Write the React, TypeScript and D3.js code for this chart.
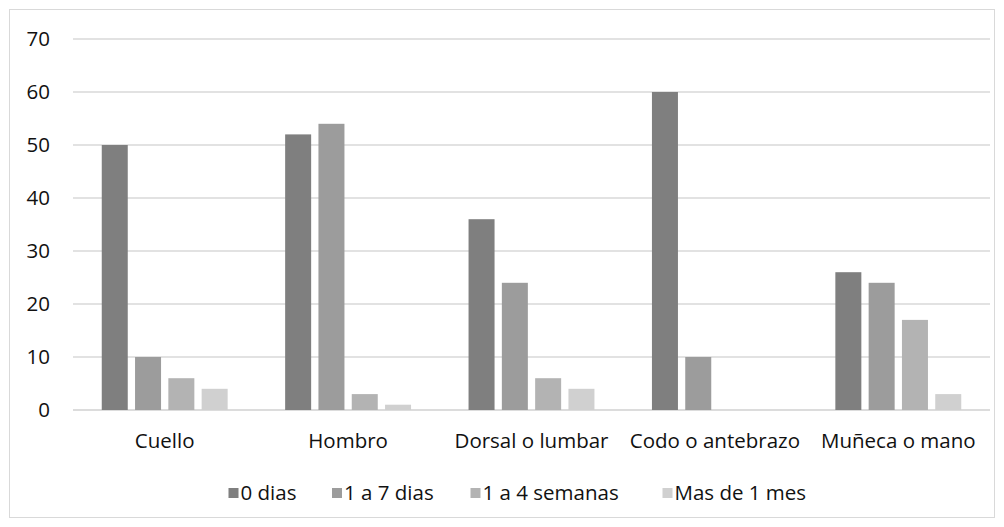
import React from "react";
import * as d3 from "d3";

const categories = ["Cuello", "Hombro", "Dorsal o lumbar", "Codo o antebrazo", "Muñeca o mano"];
const seriesNames = ["0 dias", "1 a 7 dias", "1 a 4 semanas", "Mas de 1 mes"];
const s0 = [50, 52, 36, 60, 26];
const s1 = [10, 54, 24, 10, 24];
const s2 = [6, 3, 6, 0, 17];
const s3 = [4, 1, 4, 0, 3];
const seriesValues = [s0, s1, s2, s3];
const yTicks = [0, 10, 20, 30, 40, 50, 60, 70];
const colors = ["#7f7f7f", "#9c9c9c", "#b3b3b3", "#d0d0d0"];

const W = 1004;
const H = 527;
const font = "'Open Sans', sans-serif";
const fs = 20.5;

export default function App() {
  const x0 = d3.scaleBand<string>().domain(categories).range([73, 990]).paddingInner(0).paddingOuter(0);
  const y = d3.scaleLinear().domain([0, 70]).range([410, 39]);
  const step = x0.bandwidth();
  const barW = 26;
  const gap = 7.3;
  const groupW = 4 * barW + 3 * gap;
  const off = (step - groupW) / 2;
  const x1 = d3
    .scaleOrdinal<number, number>()
    .domain([0, 1, 2, 3])
    .range([0, 1, 2, 3].map((i) => off + i * (barW + gap)));

  const legendX = [228.5, 332, 470.5, 662.5];

  return (
    <svg width={W} height={H} style={{ position: "absolute", left: 0, top: 0 }} fontFamily={font}>
      <rect x={0} y={0} width={W} height={H} fill="#fff" />
      <rect x={9.5} y={9.5} width={985} height={508} fill="#fff" stroke="#d9d9d9" strokeWidth={1} />
      {yTicks.map((t) => (
        <g key={t}>
          <line x1={73} x2={990} y1={y(t)} y2={y(t)} stroke={t === 0 ? "#d0d0d0" : "#d9d9d9"} strokeWidth={1.3} />
          <text x={50} y={y(t)} dy="0.35em" textAnchor="end" fontSize={fs} fill="#111">
            {t}
          </text>
        </g>
      ))}
      {categories.map((c, ci) => (
        <g key={c}>
          {seriesValues.map((vals, si) =>
            vals[ci] > 0 ? (
              <rect
                key={si}
                x={(x0(c) ?? 0) + x1(si)}
                y={y(vals[ci])}
                width={barW}
                height={y(0) - y(vals[ci])}
                fill={colors[si]}
              />
            ) : null
          )}
          <text x={(x0(c) ?? 0) + step / 2} y={441} dy="0.35em" textAnchor="middle" fontSize={fs} fill="#111">
            {c}
          </text>
        </g>
      ))}
      {seriesNames.map((n, i) => (
        <g key={n}>
          <rect x={legendX[i]} y={488} width={10} height={10} fill={colors[i]} />
          <text x={legendX[i] + 12} y={493} dy="0.35em" fontSize={fs} fill="#111">
            {n}
          </text>
        </g>
      ))}
    </svg>
  );
}
